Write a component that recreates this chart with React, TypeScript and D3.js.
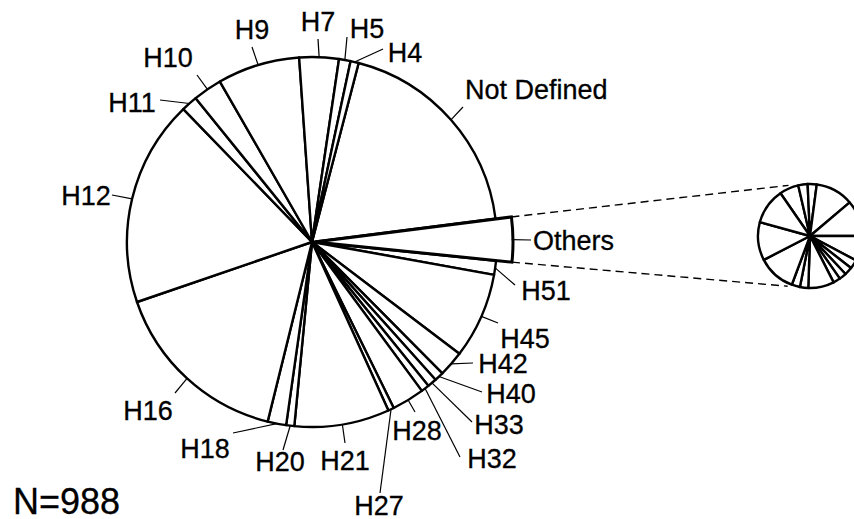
import { useEffect, useRef } from 'react';
import * as d3 from 'd3';

// Main pie: category counts, clockwise starting at "Not Defined"
const categories = [
  'Not Defined', 'Others', 'H51', 'H45', 'H42', 'H40', 'H33', 'H32', 'H28', 'H27',
  'H21', 'H20', 'H18', 'H16', 'H12', 'H11', 'H10', 'H9', 'H7', 'H5', 'H4',
];
const counts = [187, 36, 12, 74, 22, 8, 8, 7, 28, 5, 82, 7, 16, 157, 178, 14, 25, 71, 34, 10, 7];

// Breakdown of "Others" (small pie), clockwise
const othersParts = [2.15, 1.05, 1.01, 4.23, 4.02, 2.8, 1.0, 0.9, 0.8, 0.8, 2.89, 0.93, 0.93, 4.22, 4.27, 4.0];

const totalText = 'N=988';

const WIDTH = 854;
const HEIGHT = 519;
const FONT = '"Liberation Sans", Arial, Helvetica, sans-serif';

// label placement: text position (baseline) and where the leader line ends
const labelLayout: Record<string, { x: number; y: number; lx: number; ly: number; anchor?: string }> = {
  'Not Defined': { x: 465, y: 99, lx: 463, ly: 107, anchor: 'start' },
  Others: { x: 533, y: 250, lx: 531, ly: 240, anchor: 'start' },
  H51: { x: 546, y: 300, lx: 515, ly: 285 },
  H45: { x: 525, y: 348, lx: 498, ly: 323 },
  H42: { x: 503, y: 373, lx: 473, ly: 363 },
  H40: { x: 511, y: 403, lx: 482, ly: 392 },
  H33: { x: 499, y: 434, lx: 472, ly: 422 },
  H32: { x: 492, y: 468, lx: 460, ly: 457 },
  H28: { x: 417, y: 440, lx: 415, ly: 412 },
  H27: { x: 379, y: 515, lx: 380, ly: 493 },
  H21: { x: 345, y: 470, lx: 345, ly: 443 },
  H20: { x: 280, y: 471, lx: 283, ly: 450 },
  H18: { x: 205, y: 458, lx: 233, ly: 433 },
  H16: { x: 148, y: 420, lx: 175, ly: 393 },
  H12: { x: 86, y: 205, lx: 112, ly: 195 },
  H11: { x: 132, y: 112, lx: 160, ly: 100 },
  H10: { x: 168, y: 67, lx: 197, ly: 75 },
  H9: { x: 252, y: 39, lx: 252, ly: 47 },
  H7: { x: 318, y: 31, lx: 318, ly: 39 },
  H5: { x: 367, y: 38, lx: 347, ly: 37 },
  H4: { x: 405, y: 62, lx: 383, ly: 49 },
};

export default function App() {
  const svgRef = useRef<SVGSVGElement>(null);

  useEffect(() => {
    if (!svgRef.current) return;
    const svg = d3.select(svgRef.current);
    svg.selectAll('*').remove();

    const deg = Math.PI / 180;
    const cx = 312;
    const cy = 242;
    const r = 185;

    const data = categories.map((name, i) => ({ name, value: counts[i] }));
    const start = 14.6 * deg;
    const pie = d3.pie<{ name: string; value: number }>()
      .value(d => d.value)
      .sort(null)
      .startAngle(start)
      .endAngle(start + 2 * Math.PI);
    const arcs = pie(data);

    const arc = d3.arc<d3.PieArcDatum<{ name: string; value: number }>>()
      .innerRadius(0)
      .outerRadius(r);

    const g = svg.append('g').attr('transform', `translate(${cx},${cy})`);

    g.selectAll('path.slice')
      .data(arcs.filter(a => a.data.name !== 'Others'))
      .join('path')
      .attr('class', 'slice')
      .attr('d', arc)
      .attr('fill', '#fff')
      .attr('stroke', '#000')
      .attr('stroke-width', 2.4)
      .attr('stroke-linejoin', 'round');

    // exploded "Others" wedge
    const oth = arcs.find(a => a.data.name === 'Others')!;
    const mid = (oth.startAngle + oth.endAngle) / 2;
    const shift = 3;
    const ox = Math.sin(mid) * shift;
    const oy = -Math.cos(mid) * shift;
    const R2 = 198;
    const bigArc = d3.arc<d3.PieArcDatum<{ name: string; value: number }>>()
      .innerRadius(0)
      .outerRadius(R2);
    g.append('path')
      .attr('transform', `translate(${ox},${oy})`)
      .attr('d', bigArc(oth))
      .attr('fill', '#fff')
      .attr('stroke', '#000')
      .attr('stroke-width', 3)
      .attr('stroke-linejoin', 'miter');

    // small pie for the Others breakdown
    const sx = 810;
    const sy = 236;
    const sr = 52;
    const sStart = -34.6 * deg;
    const smallPie = d3.pie<number>()
      .value(d => d)
      .sort(null)
      .startAngle(sStart)
      .endAngle(sStart + 2 * Math.PI);
    const smallArc = d3.arc<d3.PieArcDatum<number>>().innerRadius(0).outerRadius(sr);
    svg.append('g')
      .attr('transform', `translate(${sx},${sy})`)
      .selectAll('path')
      .data(smallPie(othersParts))
      .join('path')
      .attr('d', smallArc)
      .attr('fill', '#fff')
      .attr('stroke', '#000')
      .attr('stroke-width', 2.4)
      .attr('stroke-linejoin', 'round');

    // dashed connectors
    const corner = (a: number) => [cx + ox + R2 * Math.sin(a), cy + oy - R2 * Math.cos(a)];
    const onSmall = (a: number) => [sx + 55 * Math.sin(a * deg), sy - 55 * Math.cos(a * deg)];
    const connectors = [
      [corner(oth.startAngle), onSmall(337)],
      [corner(oth.endAngle), onSmall(204)],
    ];
    svg.selectAll('line.conn')
      .data(connectors)
      .join('line')
      .attr('class', 'conn')
      .attr('x1', d => d[0][0])
      .attr('y1', d => d[0][1])
      .attr('x2', d => d[1][0])
      .attr('y2', d => d[1][1])
      .attr('stroke', '#000')
      .attr('stroke-width', 1.4)
      .attr('stroke-dasharray', '8,5');

    // leader lines
    const leaderStart = (a: d3.PieArcDatum<{ name: string; value: number }>) => {
      const m = (a.startAngle + a.endAngle) / 2;
      if (a.data.name === 'Others') {
        return [cx + ox + R2 * Math.cos(oth.endAngle - mid) * Math.sin(m), cy + oy - R2 * Math.cos(m)];
      }
      return [cx + r * Math.sin(m), cy - r * Math.cos(m)];
    };
    svg.selectAll('line.leader')
      .data(arcs)
      .join('line')
      .attr('class', 'leader')
      .attr('x1', d => leaderStart(d)[0])
      .attr('y1', d => leaderStart(d)[1])
      .attr('x2', d => labelLayout[d.data.name].lx)
      .attr('y2', d => labelLayout[d.data.name].ly)
      .attr('stroke', '#000')
      .attr('stroke-width', 1.2);

    // labels
    svg.selectAll('text.label')
      .data(arcs)
      .join('text')
      .attr('class', 'label')
      .attr('x', d => labelLayout[d.data.name].x)
      .attr('y', d => labelLayout[d.data.name].y)
      .attr('text-anchor', d => labelLayout[d.data.name].anchor || 'middle')
      .attr('font-family', FONT)
      .attr('font-size', '27px')
      .attr('fill', '#000')
      .attr('stroke', '#000')
      .attr('stroke-width', 0.3)
      .text(d => d.data.name);

    svg.append('text')
      .attr('x', 13)
      .attr('y', 514)
      .attr('font-family', FONT)
      .attr('font-size', '36px')
      .attr('fill', '#000')
      .attr('stroke', '#000')
      .attr('stroke-width', 0.3)
      .text(totalText);
  }, []);

  return (
    <svg
      ref={svgRef}
      width={WIDTH}
      height={HEIGHT}
      style={{ position: 'absolute', left: 0, top: 0, background: '#fff', display: 'block' }}
    />
  );
}
